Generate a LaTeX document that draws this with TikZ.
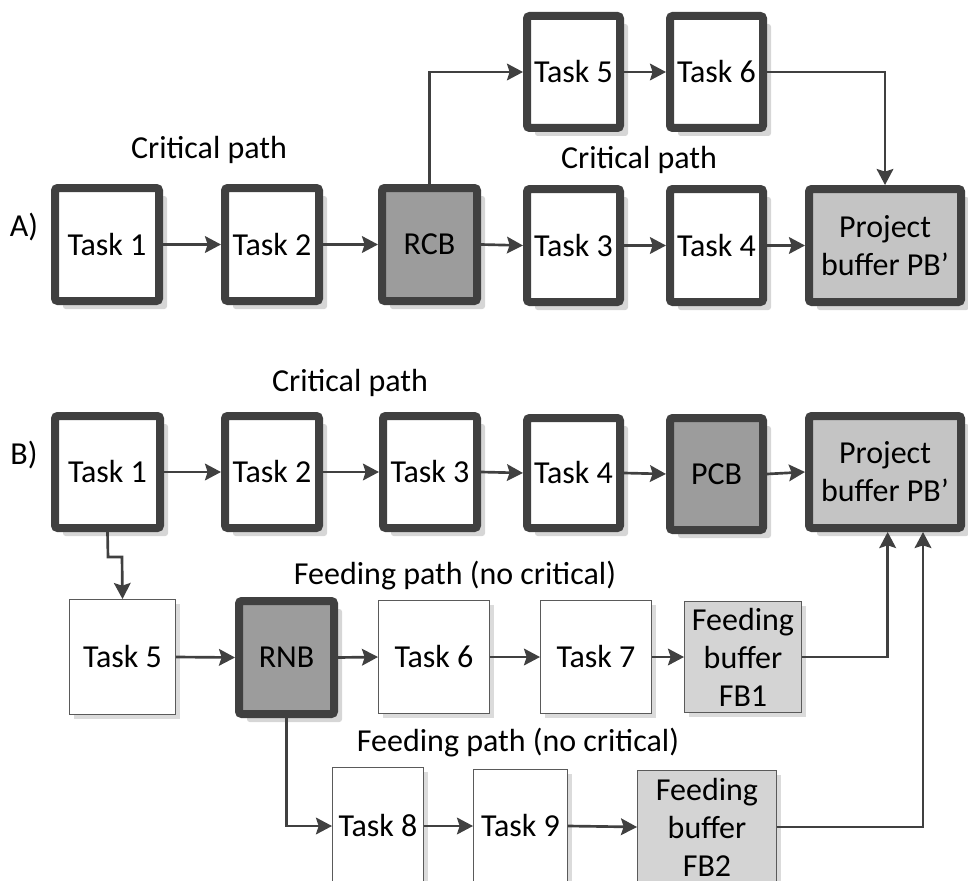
\documentclass[tikz,border=0pt]{standalone}
\usepackage{fontspec}
\setmainfont{Carlito}
\usetikzlibrary{arrows.meta,shadows}

\definecolor{edge}{HTML}{404040}
\definecolor{thinedge}{HTML}{5A5A5A}
\definecolor{cbfill}{HTML}{9C9C9C}
\definecolor{pbfill}{HTML}{C4C4C4}
\definecolor{fbfill}{HTML}{D4D4D4}

% Box placed by its outer corners (in px): name, x1, y1, x2, y2, style, border (px), text
\newcommand\placebox[8]{%
  \pgfmathsetmacro\bcx{(#2+#4)/2}%
  \pgfmathsetmacro\bcy{(#3+#5)/2}%
  \pgfmathsetmacro\bw{(#4-#2-#7)*0.75}%
  \pgfmathsetmacro\bh{(#5-#3-#7)*0.75}%
  \node[#6, minimum width=\bw pt, minimum height=\bh pt] (#1) at (\bcx,\bcy) {#8};}

\tikzset{
  lbl/.style={font=\fontsize{24}{28.5}\selectfont, inner sep=0pt, align=center},
  heavybox/.style={lbl, draw=edge, line width=6pt, rounded corners=2pt, fill=white,
    drop shadow={shadow xshift=6pt, shadow yshift=-6pt, fill=black!16, opacity=1}},
  lightbox/.style={lbl, draw=thinedge, line width=1.1pt, fill=white,
    drop shadow={shadow xshift=3.5pt, shadow yshift=-3.5pt, fill=black!14, opacity=1}},
  conn/.style={draw=edge, line width=2pt, -{Stealth[length=12pt,width=12.5pt,inset=2pt]}},
}

\begin{document}
\begin{tikzpicture}[x=0.75pt,y=-0.75pt]
\useasboundingbox (0,0) rectangle (968,881);
\clip (0,0) rectangle (968,881);

% ---------- A) ----------
\node[lbl] (labA) at (24,227) {A)};
\node[lbl] (cpA1) at (209,150) {Critical path};
\node[lbl] (cpA2) at (639,160) {Critical path};

\placebox{a1}{51}{184}{163}{305}{heavybox}{8}{Task 1}
\placebox{a2}{221}{184}{323}{305}{heavybox}{8}{Task 2}
\placebox{rcb}{378}{184}{481}{305}{heavybox, fill=cbfill}{8}{RCB}
\placebox{a3}{523}{185}{624}{306}{heavybox}{8}{Task 3}
\placebox{a4}{666}{185}{767}{306}{heavybox}{8}{Task 4}
\placebox{pbA}{805}{185}{965}{306}{heavybox, fill=pbfill}{8}{Project\\buffer PB’}
\placebox{a5}{523}{12}{624}{132}{heavybox}{8}{Task 5}
\placebox{a6}{666}{12}{767}{132}{heavybox}{8}{Task 6}

\draw[conn] (a1.east) -- (a2.west);
\draw[conn] (a2.east) -- (rcb.west);
\draw[conn] (rcb.east) -- (a3.west);
\draw[conn] (a3.east) -- (a4.west);
\draw[conn] (a4.east) -- (pbA.west);
\draw[conn] (rcb.north) |- (a5.west);
\draw[conn] (a5.east) -- (a6.west);
\draw[conn] (a6.east) -| (pbA.north);

% ---------- B) ----------
\node[lbl] (labB) at (24,455) {B)};
\node[lbl] (cpB) at (350,383) {Critical path};
\node[lbl] (fpB1) at (455,576) {Feeding path (no critical)};
\node[lbl] (fpB2) at (518,743) {Feeding path (no critical)};

\placebox{b1}{51}{412}{164}{532}{heavybox}{8}{Task 1}
\placebox{b2}{221}{412}{323}{532}{heavybox}{8}{Task 2}
\placebox{b3}{379}{412}{481}{532}{heavybox}{8}{Task 3}
\placebox{b4}{523}{414}{624}{532}{heavybox}{8}{Task 4}
\placebox{pcb}{666}{414}{767}{534}{heavybox, fill=cbfill}{8}{PCB}
\placebox{pbB}{805}{412}{965}{532}{heavybox, fill=pbfill}{8}{Project\\buffer PB’}

\placebox{b5}{69}{599}{176}{715}{lightbox}{1.5}{Task 5}
\placebox{rnb}{235}{597}{338}{718}{heavybox, fill=cbfill}{8}{RNB}
\placebox{b6}{378}{600}{490}{714}{lightbox}{1.5}{Task 6}
\placebox{b7}{540}{600}{652}{714}{lightbox}{1.5}{Task 7}
\placebox{fb1}{684}{601}{802}{713}{lightbox, fill=fbfill}{1.5}{Feeding\\buffer\\FB1}

\placebox{b8}{332}{767}{424}{885}{lightbox}{1.5}{Task 8}
\placebox{b9}{473}{769}{568}{883}{lightbox}{1.5}{Task 9}
\placebox{fb2}{637}{770}{777}{884}{lightbox, fill=fbfill}{1.5}{Feeding\\buffer\\FB2}

\draw[conn] (b1.east) -- (b2.west);
\draw[conn] (b2.east) -- (b3.west);
\draw[conn] (b3.east) -- (b4.west);
\draw[conn] (b4.east) -- (pcb.west);
\draw[conn] (pcb.east) -- (pbB.west);

\coordinate (k1) at (108,557);
\coordinate (k2) at (122,557);
\draw[conn] (b1.south) -- (k1) -- (k2) -- (b5.north);
\draw[conn] (b5.east) -- (rnb.west);
\draw[conn] (rnb.east) -- (b6.west);
\draw[conn] (b6.east) -- (b7.west);
\draw[conn] (b7.east) -- (fb1.west);
\draw[conn] (fb1.east) -| ([xshift=2pt]pbB.south);

\draw[conn] (rnb.south) |- (b8.west);
\draw[conn] (b8.east) -- (b9.west);
\draw[conn] (b9.east) -- (fb2.west);
\draw[conn] (fb2.east) -| ([xshift=28.5pt]pbB.south);
\end{tikzpicture}
\end{document}
